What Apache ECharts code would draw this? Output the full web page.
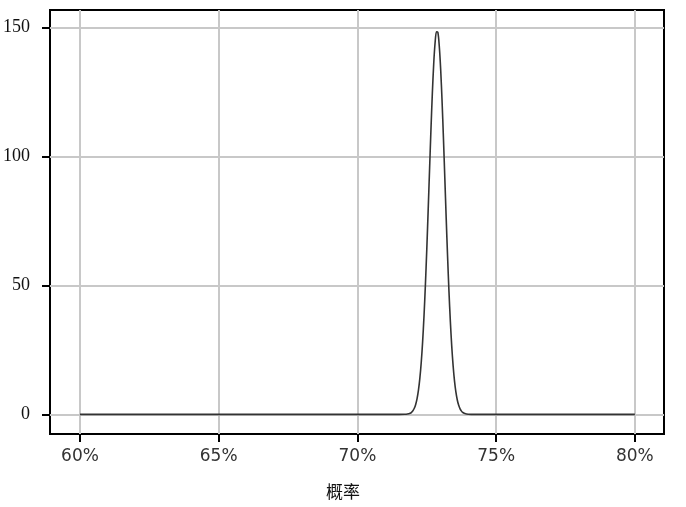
<!DOCTYPE html>
<html>
<head>
<meta charset="utf-8">
<script src="https://cdn.jsdelivr.net/npm/echarts@6/dist/echarts.min.js"></script>
<style>
html,body{margin:0;padding:0;background:#fff;}
#chart{width:686px;height:507px;}
</style>
</head>
<body>
<div id="chart"></div>
<script>
// Probability (%) and density values
var xValues = [60, 65, 70, 71, 71.5, 71.7, 71.8, 71.9, 71.95, 72.0, 72.05, 72.1, 72.15, 72.2, 72.25, 72.3, 72.35, 72.4, 72.45, 72.5, 72.55, 72.6, 72.65, 72.7, 72.75, 72.8, 72.85, 72.9, 72.95, 73.0, 73.05, 73.1, 73.15, 73.2, 73.25, 73.3, 73.35, 73.4, 73.45, 73.5, 73.55, 73.6, 73.65, 73.7, 73.75, 73.8, 73.9, 74.0, 74.1, 74.5, 75, 77, 80];
var densityValues = [0, 0, 0, 0, 0, 0.03, 0.13, 0.45, 0.81, 1.41, 2.37, 3.86, 6.11, 9.37, 13.94, 20.1, 28.11, 38.12, 50.13, 63.93, 79.06, 94.8, 110.25, 124.3, 135.9, 144.09, 148.3, 148.0, 142.77, 133.83, 121.65, 107.23, 91.65, 75.96, 61.05, 47.58, 35.95, 26.36, 18.73, 12.9, 8.62, 5.59, 3.51, 2.14, 1.26, 0.72, 0.22, 0.06, 0.01, 0, 0, 0, 0];
var xTicks = [60, 65, 70, 75, 80];
var yTicks = [0, 50, 100, 150];
var xAxisTitle = '概率';

var chart = echarts.init(document.getElementById('chart'), null, {renderer: 'canvas'});
var seriesData = xValues.map(function (x, i) { return [x, densityValues[i]]; });

chart.setOption({
  animation: false,
  backgroundColor: '#ffffff',
  title: {
    text: xAxisTitle,
    left: 'center',
    top: 478,
    textStyle: {fontFamily: 'Noto Sans CJK SC', fontSize: 17, fontWeight: 'normal', color: '#111'}
  },
  grid: {
    left: 50, right: 22, top: 10, bottom: 73,
    show: true, borderColor: '#000', borderWidth: 2, backgroundColor: 'transparent'
  },
  xAxis: {
    type: 'value',
    min: 58.92, max: 81.05,
    axisLine: {show: false, onZero: false},
    axisTick: {show: true, customValues: xTicks, length: 8, inside: false, lineStyle: {color: '#000', width: 2}},
    axisLabel: {
      customValues: xTicks, margin: 14,
      formatter: function (v) { return v + '%'; },
      fontFamily: 'DejaVu Sans', fontSize: 17, color: '#333'
    },
    splitLine: {show: true, lineStyle: {color: '#c8c8c8', width: 2}}
  },
  yAxis: {
    type: 'value',
    min: -7.6, max: 156.7,
    axisLine: {show: false, onZero: false},
    axisTick: {show: true, customValues: yTicks, length: 8, inside: false, lineStyle: {color: '#000', width: 2}},
    axisLabel: {
      customValues: yTicks, margin: 20,
      fontFamily: 'Liberation Serif', fontSize: 18, color: '#111'
    },
    splitLine: {show: true, lineStyle: {color: '#c8c8c8', width: 2}}
  },
  series: [{
    type: 'line',
    data: seriesData,
    showSymbol: false,
    smooth: 0.3,
    lineStyle: {color: '#333', width: 1.6},
    z: 5
  }]
});
</script>
</body>
</html>
